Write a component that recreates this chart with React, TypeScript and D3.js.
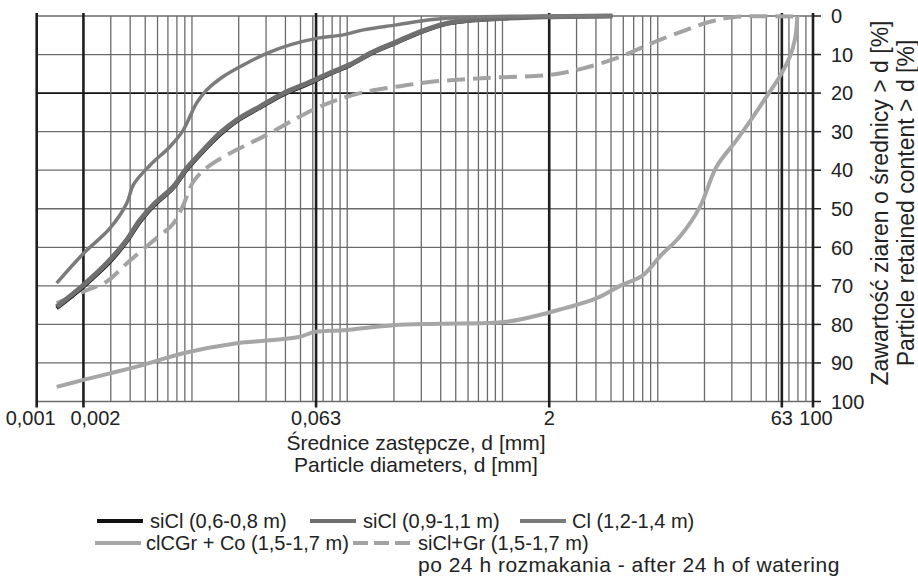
import React from 'react';
import * as d3 from 'd3';

type Pt = [number, number]; // [diameter mm, retained %]

// axis ticks
const sizeTicks = [0.001, 0.002, 0.063, 2, 63, 100];
const sizeTickLabels = ['0,001', '0,002', '0,063', '2', '63', '100'];
const pctTicks = [0, 10, 20, 30, 40, 50, 60, 70, 80, 90, 100];

// series
const siCl0608: Pt[] = [
  [0.001345, 75.8], [0.002, 70.2], [0.00296, 63.8], [0.0038, 58.5], [0.00463, 53.4], [0.00563, 49.4],
  [0.00758, 44.6], [0.00925, 39.9], [0.01183, 35.1], [0.01514, 30.8], [0.0194, 27.3], [0.0274, 23.8],
  [0.0387, 20.4], [0.0548, 17.8], [0.0774, 15.0], [0.1041, 12.8], [0.147, 9.5], [0.208, 6.9],
  [0.294, 4.3], [0.437, 2.0], [0.648, 1.1], [1.01, 0.6], [1.92, 0.2], [5.1, 0],
];
const siCl0911: Pt[] = [
  [0.001345, 75.4], [0.002, 69.8], [0.00296, 63.3], [0.0038, 58.1], [0.00463, 52.9], [0.00563, 49.0],
  [0.00758, 44.3], [0.00925, 39.5], [0.01183, 34.8], [0.01514, 30.4], [0.0194, 27.0], [0.0274, 23.5],
  [0.0387, 20.1], [0.0548, 17.5], [0.0774, 14.8], [0.1041, 12.6], [0.147, 9.3], [0.208, 6.7],
  [0.294, 4.1], [0.437, 1.9], [0.648, 1.0], [1.01, 0.6], [1.92, 0.2], [5.1, 0],
];
const cl1214: Pt[] = [
  [0.001345, 69.3], [0.002, 61.6], [0.00296, 55.1], [0.0038, 48.6], [0.00419, 43.8], [0.00537, 38.7],
  [0.00721, 33.9], [0.00879, 29.6], [0.0097, 26.1], [0.0107, 22.6], [0.01244, 19.2], [0.0159, 15.7],
  [0.0214, 12.7], [0.0303, 9.7], [0.0428, 7.5], [0.0635, 5.8], [0.0942, 4.9], [0.1268, 3.6],
  [0.208, 2.3], [0.341, 1.0], [0.437, 0.6], [0.916, 0.1], [5.1, 0],
];
const clCGrCo: Pt[] = [
  [0.001345, 96.2], [0.002, 94.4], [0.00296, 92.7], [0.00486, 90.5], [0.00879, 87.5], [0.0194, 84.9],
  [0.0303, 84.2], [0.0496, 83.2], [0.0619, 81.9], [0.0942, 81.5], [0.198, 80.2], [0.395, 79.8],
  [1.063, 79.3], [2.0, 76.9], [4.04, 73.2], [5.7, 70.0], [8.05, 67.2], [10.3, 62.4], [13.9, 57.2],
  [18.7, 49.5], [23.9, 39.1], [32.2, 32.2], [41.2, 26.1], [50.2, 20.9], [61.1, 15.7], [70.9, 10.6],
  [76.4, 6.2], [79.0, 1.0], [79.0, 0],
];
const siClGr: Pt[] = [
  [0.001345, 74.5], [0.002, 71.5], [0.00282, 68.9], [0.0038, 64.2], [0.00537, 59.0], [0.00759, 53.8],
  [0.0088, 49.0], [0.0102, 43.0], [0.0125, 39.3], [0.01757, 35.6], [0.02363, 33.0], [0.0318, 30.4],
  [0.0449, 27.0], [0.0635, 23.9], [0.0855, 21.8], [0.1334, 19.6], [0.2185, 18.2], [0.358, 17.0],
  [0.587, 16.4], [0.962, 15.9], [2.0, 15.3], [3.31, 13.6], [5.7, 10.6], [7.3, 8.8], [10.3, 6.2],
  [15.3, 3.6], [21.7, 1.5], [30.6, 0.3], [74.4, 0.1],
];

const seriesNames = [
  'siCl (0,6-0,8 m)', 'siCl (0,9-1,1 m)', 'Cl (1,2-1,4 m)', 'clCGr + Co (1,5-1,7 m)', 'siCl+Gr (1,5-1,7 m)',
];
const legendNote = 'po 24 h rozmakania - after 24 h of watering';

const FONT = "'Liberation Sans', Arial, Helvetica, sans-serif";
const FS = 20;

const styles = [
  { color: '#111111', width: 4, dash: '' },
  { color: '#6f6f6f', width: 5, dash: '' },
  { color: '#7b7b7b', width: 3.5, dash: '' },
  { color: '#a6a6a6', width: 4, dash: '' },
  { color: '#a3a3a3', width: 4, dash: '18 8' },
];

const x = d3.scaleLog().domain([0.001, 100]).range([36.7, 813]);
const y = d3.scaleLinear().domain([0, 100]).range([16, 401.5]);

const line = d3.line<Pt>()
  .x(d => x(d[0]))
  .y(d => y(d[1]))
  .curve(d3.curveCatmullRom.alpha(0.5));

// all 1..9 multiples per decade
const minorTicks: number[] = [];
for (let e = -3; e <= 1; e++) {
  for (let m = 1; m <= 9; m++) minorTicks.push(+(m * Math.pow(10, e)).toPrecision(3));
}

const legendItems = [
  { i: 0, lx: 97, ly: 521, len: 46, tx: 150 },
  { i: 1, lx: 310, ly: 521, len: 46, tx: 363 },
  { i: 2, lx: 520, ly: 521, len: 46, tx: 572 },
  { i: 3, lx: 95, ly: 543, len: 46, tx: 146 },
  { i: 4, lx: 353, ly: 543, len: 57, tx: 418 },
];

const App: React.FC = () => {
  const data = [siCl0608, siCl0911, cl1214, clCGrCo, siClGr];
  const drawOrder = [3, 4, 0, 1, 2];
  const labelDx = [-6, 12, 0, 0, 0, 3];

  return (
    <svg width={918} height={577} style={{ position: 'absolute', left: 0, top: 0, background: '#fff' }}
      fontFamily={FONT}>
      {/* horizontal grid */}
      {pctTicks.map(p => (
        <line key={'h' + p} x1={x(0.001)} x2={x(100)} y1={y(p)} y2={y(p)}
          stroke={p === 20 ? '#111' : '#6b6b6b'} strokeWidth={p === 20 ? 1.6 : 1.3} />
      ))}
      {/* minor verticals */}
      {minorTicks.filter(v => !sizeTicks.includes(v)).map(v => (
        <line key={'v' + v} x1={x(v)} x2={x(v)} y1={y(0)} y2={y(100)} stroke="#6b6b6b" strokeWidth={1.3} />
      ))}
      {/* bold verticals */}
      {sizeTicks.map(v => (
        <line key={'b' + v} x1={x(v)} x2={x(v)} y1={y(0) - 3} y2={y(100) + 6} stroke="#1e1e1e" strokeWidth={2.6} />
      ))}
      {/* right axis ticks */}
      {pctTicks.map(p => (
        <g key={'t' + p}>
          <line x1={x(100)} x2={x(100) + 8} y1={y(p)} y2={y(p)} stroke="#1e1e1e" strokeWidth={1.5} />
          <text x={831} y={y(p)} dy="0.36em" fontSize={FS} fill="#222">{p}</text>
        </g>
      ))}
      {/* bottom tick labels */}
      {sizeTicks.map((v, i) => (
        <text key={'xl' + v} x={x(v) + labelDx[i]} y={425} textAnchor="middle" fontSize={FS} fill="#222">
          {sizeTickLabels[i]}
        </text>
      ))}

      {/* curves */}
      {drawOrder.map(i => (
        <path key={'s' + i} d={line(data[i]) || ''} fill="none" stroke={styles[i].color}
          strokeWidth={styles[i].width} strokeDasharray={styles[i].dash || undefined}
          strokeLinejoin="round" strokeLinecap="butt" />
      ))}

      {/* axis titles */}
      <text x={416} y={450} textAnchor="middle" fontSize={21} fill="#222">Średnice zastępcze, d [mm]</text>
      <text x={416} y={472} textAnchor="middle" fontSize={21} fill="#222">Particle diameters, d [mm]</text>
      <text transform="translate(888,203) rotate(-90)" textAnchor="middle" fontSize={23} fill="#222">
        Zawartość ziaren o średnicy &gt; d [%]
      </text>
      <text transform="translate(914,203) rotate(-90)" textAnchor="middle" fontSize={23} fill="#222">
        Particle retained content &gt; d [%]
      </text>

      {/* legend */}
      {legendItems.map(it => (
        <g key={'lg' + it.i}>
          <line x1={it.lx} x2={it.lx + it.len} y1={it.ly} y2={it.ly}
            stroke={styles[it.i].color} strokeWidth={4}
            strokeDasharray={it.i === 4 ? '15 6' : undefined} />
          <text x={it.tx} y={it.ly} dy="0.35em" fontSize={FS} fill="#222">{seriesNames[it.i]}</text>
        </g>
      ))}
      <text x={418} y={565} dy="0.35em" fontSize={21} letterSpacing={0.5} fill="#222">{legendNote}</text>
    </svg>
  );
};

export default App;
